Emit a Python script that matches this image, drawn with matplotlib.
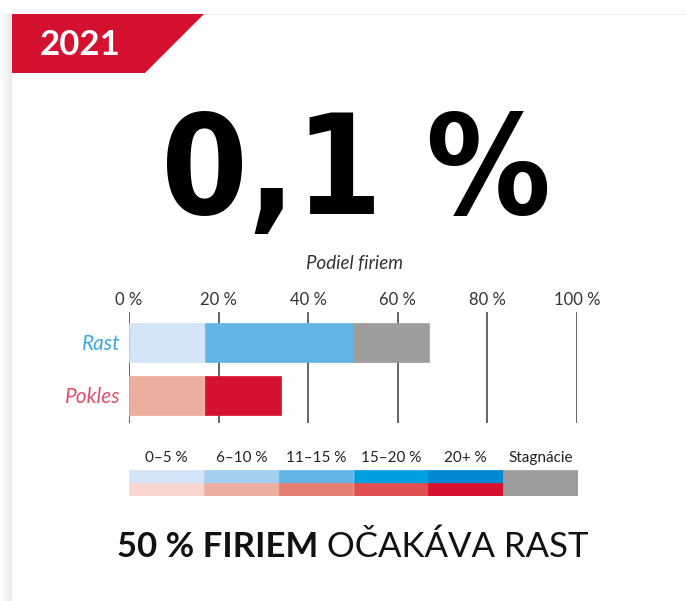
import matplotlib
matplotlib.use("Agg")
import matplotlib.pyplot as plt
from matplotlib.patches import Polygon, Rectangle
import numpy as np

# ---------------- data ----------------
year_label = "2021"
headline_value = "0,1 %"
axis_title = "Podiel firiem"
categories = ["Rast", "Pokles"]
rast_values = [17, 33, 17]          # 0-5 %, 11-15 %, stagnácie
pokles_values = [17, 17]            # 6-10 %, 20+ %
tick_values = [0, 20, 40, 60, 80, 100]
tick_labels = ["0 %", "20 %", "40 %", "60 %", "80 %", "100 %"]
legend_labels = ["0–5 %", "6–10 %", "11–15 %", "15–20 %", "20+ %", "Stagnácie"]
footer_bold = "50 % FIRIEM"
footer_light = "OČAKÁVA RAST"

blues = ["#d3e5f6", "#a3cff0", "#63b5e5", "#00a0e0", "#0089d0"]
reds = ["#f7d6d0", "#edaea2", "#e47f72", "#df4f4f", "#d51130"]
gray = "#9d9d9b"
rast_colors = [blues[0], blues[2], gray]
pokles_colors = [reds[1], reds[4]]

W, H = 686, 601
fig = plt.figure(figsize=(W / 100, H / 100), dpi=100)
fig.patch.set_facecolor("white")

def fx(x):
    return x / W

def fy(y):
    return 1 - y / H

FAM = ["Lato", "DejaVu Sans"]

# card shadow on left and faint top edge
for i in range(12):
    a = 0.10 * (i + 1) / 12
    fig.patches.append(Rectangle((fx(i), 0), fx(1), fy(14), transform=fig.transFigure,
                                 facecolor="#000000", alpha=a * 0.8, edgecolor="none"))
fig.patches.append(Rectangle((fx(12), fy(15)), 1, 1.5 / H, transform=fig.transFigure,
                             facecolor="#eeeeee", edgecolor="none"))

# red banner
banner = Polygon([(fx(12), fy(14)), (fx(204), fy(14)), (fx(145), fy(73)), (fx(12), fy(73))],
                 closed=True, transform=fig.transFigure, facecolor="#d51130", edgecolor="none")
fig.patches.append(banner)
fig.text(fx(80), fy(55), year_label, color="white", fontsize=25, fontweight="bold",
         family=FAM, ha="center", va="baseline")

# headline
fig.text(fx(356), fy(214), headline_value, color="black", fontsize=100, fontweight="bold",
         family="DejaVu Sans", fontstretch="condensed", ha="center", va="baseline")

# axis title
fig.text(fx(354), fy(269), axis_title, color="#333333", fontsize=13.5, style="italic",
         family=FAM, ha="center", va="baseline")

# ---------------- main bar axes ----------------
x0, x1 = 129, 577
ytop, ybot = 312, 423
ax = fig.add_axes([fx(x0), fy(ybot), fx(x1 - x0), (ybot - ytop) / H])
ypos = np.arange(len(categories))
bar_h = 0.74
ax.set_xlim(0, 100)
ax.set_ylim(1.519, -0.575)

for v in tick_values:
    ax.axvline(v, color="#3a3a3a", lw=1.1, zorder=1)

left = 0
for val, col in zip(rast_values, rast_colors):
    ax.barh(ypos[0], val, left=left, height=bar_h, color=col, edgecolor=col, lw=0.5, zorder=2)
    left += val
left = 0
for val, col in zip(pokles_values, pokles_colors):
    ax.barh(ypos[1], val, left=left, height=bar_h, color=col, edgecolor=col, lw=0.5, zorder=2)
    left += val

for s in ax.spines.values():
    s.set_visible(False)
ax.xaxis.tick_top()
ax.set_xticks(tick_values)
ax.set_xticklabels(tick_labels, fontsize=12, color="#333333", family=FAM)
ax.tick_params(axis="x", length=0, pad=3)
ax.set_yticks(ypos)
ax.set_yticklabels(categories, fontsize=15, style="italic", family=FAM)
ax.get_yticklabels()[0].set_color("#3ea8df")
ax.get_yticklabels()[1].set_color("#e0506a")
ax.tick_params(axis="y", length=0, pad=6)
ax.patch.set_visible(False)

# ---------------- legend axes ----------------
lx0, lx1 = 129, 578
ly0, ly1 = 470, 496
lax = fig.add_axes([fx(lx0), fy(ly1), fx(lx1 - lx0), (ly1 - ly0) / H])
n = len(legend_labels)
lax.set_xlim(0, n)
lax.set_ylim(0, 2)
for i in range(5):
    lax.bar(i + 0.5, 1, bottom=1, width=1, color=blues[i], edgecolor=blues[i], lw=0.5)
    lax.bar(i + 0.5, 1, bottom=0, width=1, color=reds[i], edgecolor=reds[i], lw=0.5)
lax.bar(5.5, 2, bottom=0, width=1, color=gray, edgecolor=gray, lw=0.5)
lax.axis("off")
for i, lab in enumerate(legend_labels):
    fig.text(fx(lx0 + (i + 0.5) * (lx1 - lx0) / n), fy(462), lab, fontsize=11,
             color="#222222", family=FAM, ha="center", va="baseline")

# ---------------- footer ----------------
renderer = fig.canvas.get_renderer()
tb = fig.text(0, fy(557), footer_bold, fontsize=25, fontweight="bold",
              family=FAM, color="#111111", ha="left", va="baseline")
tl = fig.text(0, fy(557), " " + footer_light, fontsize=25, fontweight="normal",
              family=FAM, color="#111111", ha="left", va="baseline")
wb = tb.get_window_extent(renderer).width
wl = tl.get_window_extent(renderer).width
start = 352.5 - (wb + wl) / 2
tb.set_x(fx(start))
tl.set_x(fx(start + wb))

fig.savefig("out.png", dpi=100, facecolor="white")
